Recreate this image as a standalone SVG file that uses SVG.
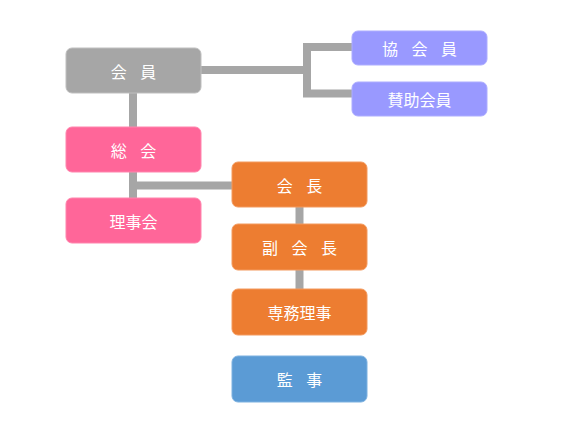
<svg xmlns="http://www.w3.org/2000/svg" width="567" height="442" viewBox="0 0 567 442">
<style>
.box{stroke-width:1}
.t{font-family:"Noto Sans CJK JP","Noto Sans CJK SC",sans-serif;font-size:16px;fill:#fff;text-anchor:middle;dominant-baseline:central;word-spacing:10px}
.c{stroke:#A6A6A6;stroke-width:8;fill:none}
</style>
<rect width="567" height="442" fill="#fff"/>
<g id="connectors">
<line class="c" x1="133" y1="93" x2="133" y2="127"/>
<line class="c" x1="133" y1="172" x2="133" y2="198"/>
<line class="c" x1="133" y1="185.5" x2="232" y2="185.5"/>
<line class="c" x1="299.5" y1="207" x2="299.5" y2="224"/>
<line class="c" x1="299.5" y1="270" x2="299.5" y2="289"/>
<line class="c" x1="201" y1="70" x2="307" y2="70"/>
<line class="c" x1="307" y1="43" x2="307" y2="97"/>
<line class="c" x1="303" y1="47" x2="352" y2="47"/>
<line class="c" x1="303" y1="93.5" x2="352" y2="93.5"/>
</g>
<g id="kaiin"><rect class="box" x="66" y="48" width="135" height="45" rx="6" fill="#A6A6A6" stroke="#BFBFBF"/><text class="t" x="133.5" y="70.5">会 員</text></g>
<g id="kyokaiin"><rect class="box" x="352" y="31" width="135" height="34" rx="6" fill="#9999FF" stroke="#ADADFF"/><text class="t" x="419.5" y="48">協 会 員</text></g>
<g id="sanjokaiin"><rect class="box" x="352" y="82" width="135" height="34" rx="6" fill="#9999FF" stroke="#ADADFF"/><text class="t" x="419.5" y="99">賛助会員</text></g>
<g id="sokai"><rect class="box" x="66" y="127" width="135" height="45" rx="6" fill="#FF6699" stroke="#FF85AD"/><text class="t" x="133.5" y="149.5">総 会</text></g>
<g id="rijikai"><rect class="box" x="66" y="198" width="135" height="45" rx="6" fill="#FF6699" stroke="#FF85AD"/><text class="t" x="133.5" y="220.5">理事会</text></g>
<g id="kaicho"><rect class="box" x="232" y="162" width="135" height="45" rx="6" fill="#ED7D31" stroke="#F39A5E"/><text class="t" x="299.5" y="184.5">会 長</text></g>
<g id="fukukaicho"><rect class="box" x="232" y="224" width="135" height="46" rx="6" fill="#ED7D31" stroke="#F39A5E"/><text class="t" x="299.5" y="247">副 会 長</text></g>
<g id="senmuriji"><rect class="box" x="232" y="289" width="135" height="46" rx="6" fill="#ED7D31" stroke="#F39A5E"/><text class="t" x="299.5" y="312">専務理事</text></g>
<g id="kanji"><rect class="box" x="232" y="356" width="135" height="46" rx="6" fill="#5B9BD5" stroke="#7DB1E0"/><text class="t" x="299.5" y="379">監 事</text></g>
</svg>
